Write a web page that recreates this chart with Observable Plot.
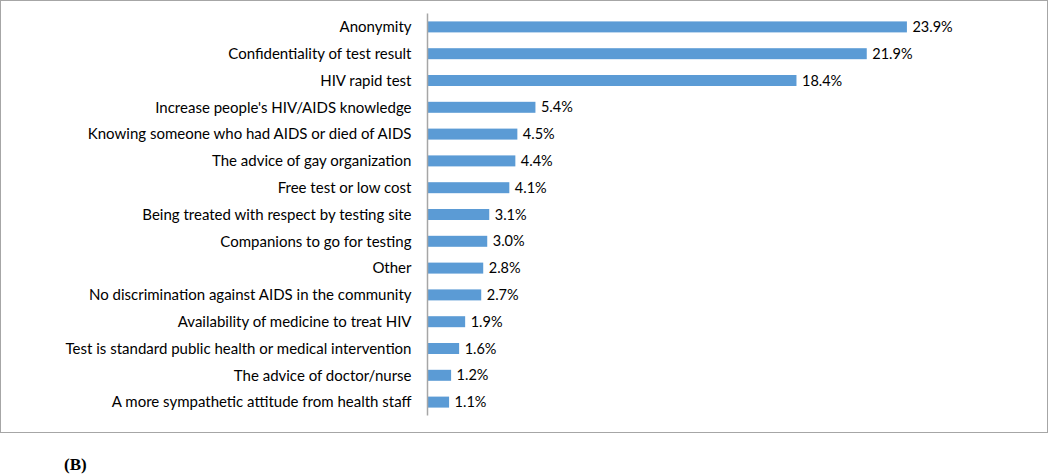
<!DOCTYPE html>
<html><head><meta charset="utf-8">
<script src="https://cdn.jsdelivr.net/npm/d3@7"></script>
<script src="https://cdn.jsdelivr.net/npm/@observablehq/plot@0.6"></script>
<style>
body{margin:0;background:#fff;}
#box{position:absolute;left:0;top:0;width:1046px;height:431px;border:1.5px solid #a6a6a6;}
#lab{position:absolute;left:64px;top:455px;font:bold 17px "Liberation Serif",serif;color:#000;}
</style></head>
<body>
<div id="box"></div>
<div id="lab">(B)</div>
<script>
const categories = [
  "Anonymity",
  "Confidentiality of test result",
  "HIV rapid test",
  "Increase people's HIV/AIDS knowledge",
  "Knowing someone who had AIDS or died of AIDS",
  "The advice of gay organization",
  "Free test or low cost",
  "Being treated with respect by testing site",
  "Companions to go for testing",
  "Other",
  "No discrimination against AIDS in the community",
  "Availability of medicine to treat HIV",
  "Test is standard public health or medical intervention",
  "The advice of doctor/nurse",
  "A more sympathetic attitude from health staff"
];
const values = [23.9, 21.9, 18.4, 5.4, 4.5, 4.4, 4.1, 3.1, 3.0, 2.8, 2.7, 1.9, 1.6, 1.2, 1.1];
const data = categories.map((c, i) => ({category: c, value: values[i]}));

const chart = Plot.plot({
  width: 1046,
  height: 431,
  marginLeft: 426,
  marginRight: 118,
  marginTop: 12.5,
  marginBottom: 16.5,
  style: {fontFamily: "Lato, sans-serif", fontSize: "15px", color: "#000", background: "transparent"},
  x: {domain: [0, 25], axis: null},
  y: {domain: categories, paddingInner: 0.59, paddingOuter: 0.295, round: false, label: null, tickSize: 0, tickPadding: 16},
  marks: [
    Plot.barX(data, {x: "value", y: "category", fill: "#5b9bd5"}),
    Plot.ruleX([0], {stroke: "#a6a6a6", strokeWidth: 1.5}),
    Plot.text(data, {x: "value", y: "category", text: d => d.value.toFixed(1) + "%", textAnchor: "start", dx: 5, fill: "#000", fontSize: 14.5})
  ]
});
chart.style.position = "absolute";
chart.style.left = "0px";
chart.style.top = "0px";
document.getElementById("box").appendChild(chart);
</script>
</body></html>
